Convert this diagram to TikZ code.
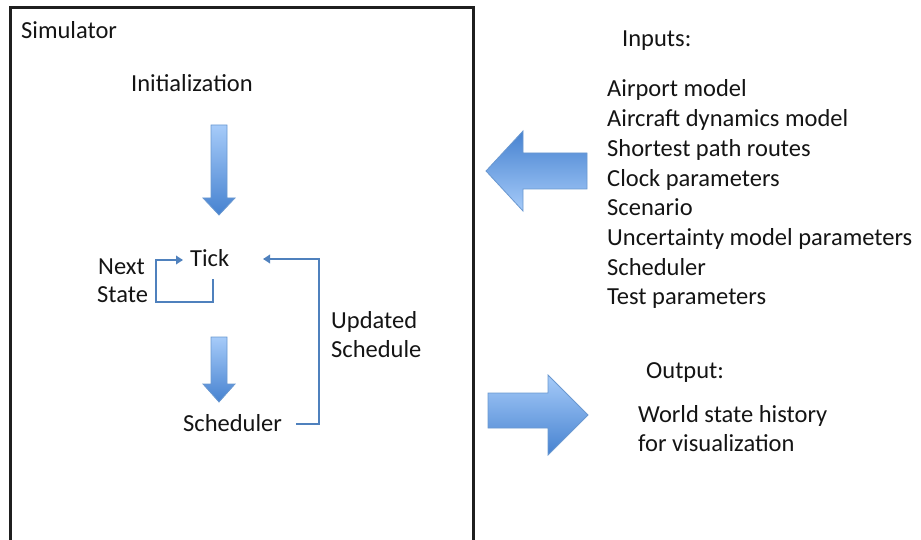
\documentclass[tikz,border=0pt]{standalone}
\usepackage{fontspec}
\setmainfont{Carlito}
\usetikzlibrary{arrows.meta}
\definecolor{txt}{HTML}{141414}
\definecolor{lineblue}{HTML}{4F81BD}
\definecolor{arrlight}{HTML}{A6CBF9}
\definecolor{arrdark}{HTML}{4682D0}
\definecolor{arredge}{HTML}{6A98D0}
\begin{document}
\begin{tikzpicture}[x=1pt,y=-1pt,
  lbl/.style={anchor=base west,inner sep=0pt,text=txt,font=\fontsize{24.5}{29.7}\selectfont},
  flow/.style={draw=lineblue,line width=2.8pt,-{Triangle[length=7pt,width=8.5pt]}},
  blockv/.style={top color=arrlight,bottom color=arrdark,draw=arredge,line width=0.8pt},
  blockl/.style={top color=arrdark,bottom color=arrlight,draw=arredge,line width=0.8pt},
  blockr/.style={top color=arrlight,bottom color=arrdark,draw=arredge,line width=0.8pt}]
\useasboundingbox (0,0) rectangle (921,540);
\clip (0,0) rectangle (921,540);
% simulator frame
\draw[line width=3pt,draw=black!88] (10,8) rectangle (473,570);
% labels inside the simulator
\node[lbl] (sim) at (21,39) {Simulator};
\node[lbl] (init) at (131,92) {Initialization};
\node[lbl] (tick) at (190,266) {Tick};
\node[lbl] (next) at (98,274) {Next};
\node[lbl] (state) at (97,302) {State};
\node[lbl] (upd) at (331,328) {Updated};
\node[lbl] (schedule) at (331,357) {Schedule};
\node[lbl] (sched) at (183,431) {Scheduler};
% block arrows (down)
\shade[blockv] (211,125) -- (227,125) -- (227,198) -- (235,198) -- (219,215) -- (203,198) -- (211,198) -- cycle;
\shade[blockv] (211,337) -- (227,337) -- (227,384) -- (235,384) -- (219,402) -- (203,384) -- (211,384) -- cycle;
% next state loop
\coordinate (nsA) at (213,279);
\coordinate (nsB) at (156,302);
\draw[flow] (nsA) |- (nsB) -- (156,260) -- ([xshift=-7pt]tick.west |- 0,260);
% updated schedule loop
\coordinate (usA) at (296,424);
\coordinate (usB) at (319,259);
\draw[flow] (usA) -| (usB) -- (263,259);
% inputs / outputs
\node[lbl] (inputs) at (622,47) {Inputs:};
\node[lbl] (i1) at (607,97) {Airport model};
\node[lbl] (i2) at (607,126.7) {Aircraft dynamics model};
\node[lbl] (i3) at (607,156.4) {Shortest path routes};
\node[lbl] (i4) at (607,186.1) {Clock parameters};
\node[lbl] (i5) at (607,215.8) {Scenario};
\node[lbl] (i6) at (607,245.5) {Uncertainty model parameters};
\node[lbl] (i7) at (607,275.2) {Scheduler};
\node[lbl] (i8) at (607,304.9) {Test parameters};
\node[lbl] (output) at (646,378) {Output:};
\node[lbl] (o1) at (638,422) {World state history};
\node[lbl] (o2) at (638,451) {for visualization};
% big arrows
\shade[blockl] (587,153) -- (523,153) -- (523,131) -- (486,171) -- (523,211) -- (523,189) -- (587,189) -- cycle;
\shade[blockr] (488,393) -- (548,393) -- (548,375) -- (588,415) -- (548,455) -- (548,428) -- (488,428) -- cycle;
\end{tikzpicture}
\end{document}
